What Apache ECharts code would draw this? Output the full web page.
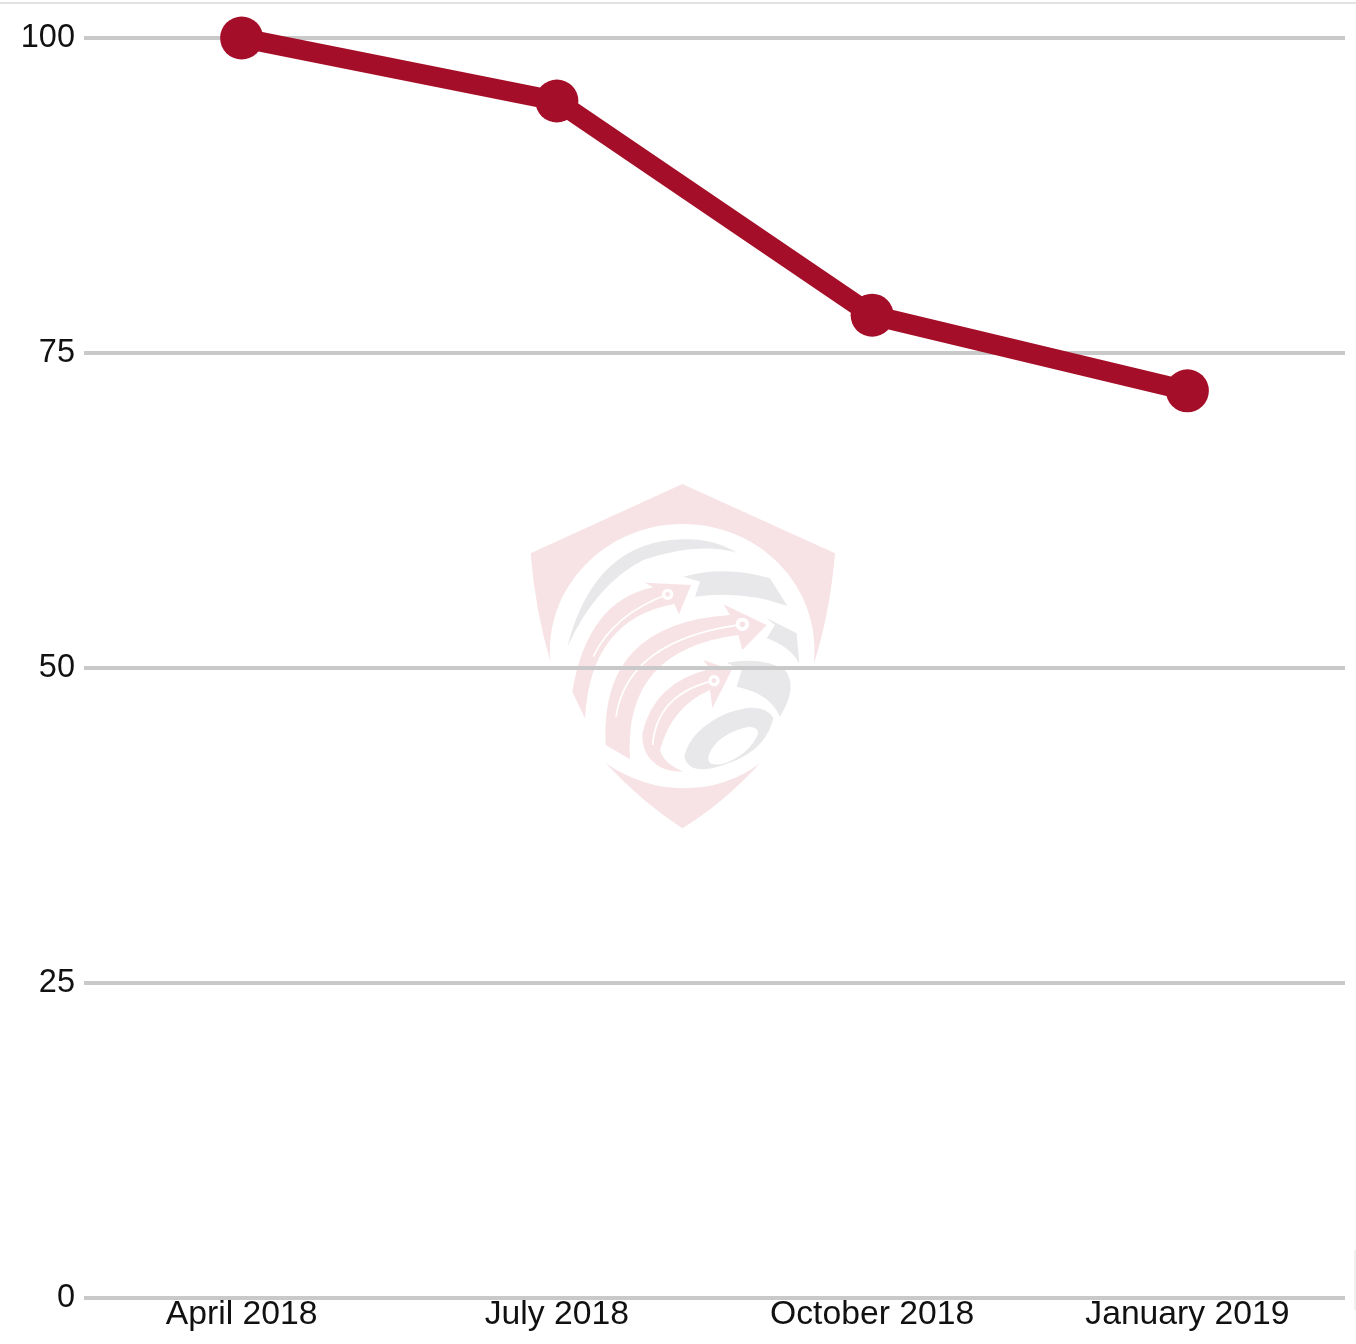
<!DOCTYPE html>
<html>
<head>
<meta charset="utf-8">
<style>html,body{margin:0;padding:0;background:#fff}#c{width:1356px;height:1344px}</style>
<script src="https://cdn.jsdelivr.net/npm/echarts@6/dist/echarts.min.js"></script>
</head>
<body>
<div id="c"></div>
<script>
const categories = ["April 2018", "July 2018", "October 2018", "January 2019"];
const values = [100, 95, 78, 72];
const yTicks = [0, 25, 50, 75, 100];

const pink = "#f7e3e6", grey = "#e8e8ea";
const logoPaths = [
  [pink, "M517 42 L975 250 Q960 430 912 580 C935 350 750 162 517 162 C290 162 100 350 122 578 Q75 420 62 250 Z"],
  [pink, "M287 880 Q400 955 520 955 Q650 955 750 880 Q640 1000 517 1075 Q400 1000 287 880 Z"],
  [grey, "M172 530 Q254 211 520 208 Q610 205 680 248 Q560 215 400 270 Q260 340 172 530 Z"],
  [grey, "M520 320 Q650 285 780 325 L832 408 Q700 360 555 380 L570 335 Z"],
  [grey, "M768 443 L860 490 L868 580 Q840 530 770 505 L795 465 Z"],
  [grey, "M650 578 Q760 560 825 600 Q865 650 810 740 Q780 670 680 650 L695 600 Z"],
  [grey, "M523 860 Q540 780 650 730 Q760 690 790 745 Q770 830 680 870 Q540 930 523 860 Z"],
  ["#ffffff", "M595 860 Q610 810 670 785 Q740 755 745 790 Q720 850 650 878 Q590 895 595 860 Z"],
  [pink, "M225 745 L187 665 Q232 392 430 352 L405 338 L543 345 L507 433 L493 402 Q241 447 225 745 Z"],
  [pink, "M360 868 L287 825 Q267 460 660 435 L640 403 L770 465 L697 540 L685 495 Q338 539 360 868 Z"],
  [pink, "M520 905 Q460 905 435 880 Q395 850 397 790 Q432 637 600 597 L580 570 L665 600 L607 715 L600 660 Q485 710 450 840 Q460 880 520 905 Z"]
];
const logoLines = [
  "M250 560 Q309 434 473 373",
  "M318 740 Q353 509 697 463",
  "M428 825 Q440 672 612 632"
];
const logoDots = [[473,373,17],[697,463,20],[612,632,17]];

const logo = [];
function addPath(d, style, i) {
  const name = "logoShape" + i;
  echarts.graphic.registerShape(name, echarts.graphic.extendPath(d, {}));
  logo.push({type:name, style:style});
}
logoPaths.forEach((p, i) => addPath(p[1], {fill:p[0]}, i));
logoLines.forEach((d, i) => addPath(d, {fill:"none", stroke:"#fff", lineWidth:5}, 100 + i));
logoDots.forEach(d => {
  logo.push({type:"circle", shape:{cx:d[0],cy:d[1],r:d[2]}, style:{fill:"#fff"}});
  logo.push({type:"circle", shape:{cx:d[0],cy:d[1],r:d[2]*0.42}, style:{fill:pink}});
});

const chart = echarts.init(document.getElementById("c"), null, {renderer:"canvas"});
chart.setOption({
  animation:false,
  backgroundColor:"#fff",
  textStyle:{fontFamily:"'Liberation Sans',Arial,sans-serif"},
  grid:{left:84, right:11, top:38, height:1260, containLabel:false},
  graphic:[
    {type:"group", x:510, y:470, scaleX:1/3, scaleY:1/3, z:-10, silent:true, children:logo},
    {type:"rect", shape:{x:0,y:2,width:1356,height:2}, style:{fill:"#e2e2e2"}, z:-10, silent:true},
    {type:"rect", shape:{x:1354,y:1250,width:2,height:60}, style:{fill:"#f0f0f0"}, z:-10, silent:true}
  ],
  xAxis:{
    type:"category", data:categories, boundaryGap:true,
    axisLine:{show:false}, axisTick:{show:false}, splitLine:{show:false},
    axisLabel:{color:"#111", fontSize:33.7, margin:0, interval:0, verticalAlign:"top", lineHeight:34}
  },
  yAxis:{
    type:"value", min:yTicks[0], max:yTicks[yTicks.length-1], interval:yTicks[1]-yTicks[0],
    axisLine:{show:false}, axisTick:{show:false},
    splitLine:{show:true, lineStyle:{color:"#c9c9c9", width:4}},
    axisLabel:{color:"#111", fontSize:32.5, margin:9, showMinLabel:true, showMaxLabel:true}
  },
  series:[{
    type:"line", data:values, clip:false, z:5,
    symbol:"circle", symbolSize:43,
    lineStyle:{color:"#a50e28", width:20, cap:"butt", join:"round"},
    itemStyle:{color:"#a50e28", borderWidth:0}
  }]
});
</script>
</body>
</html>
